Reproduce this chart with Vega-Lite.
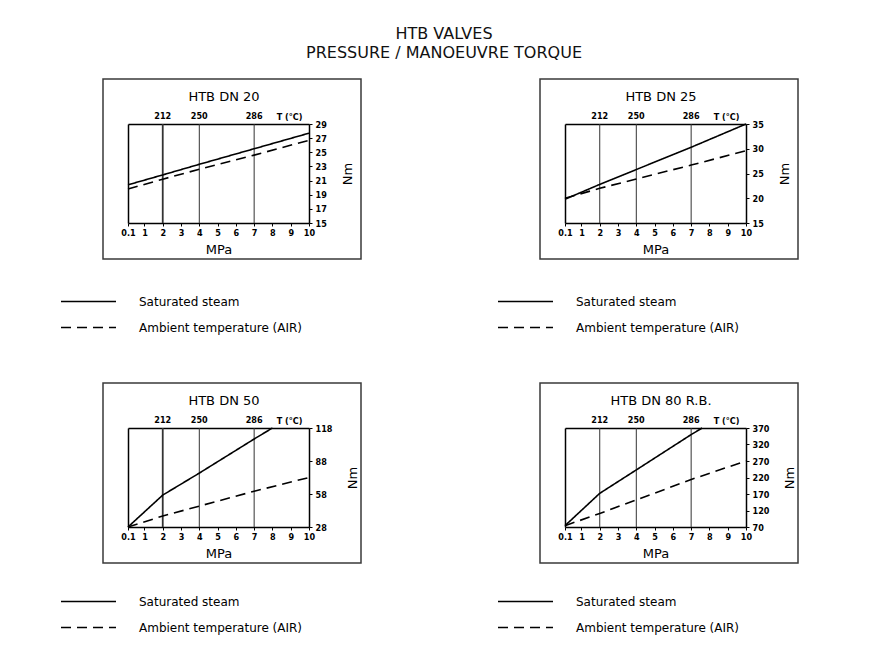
{
  "$schema": "https://vega.github.io/schema/vega-lite/v6.json",
  "background": "white",
  "padding": {"left": 59, "top": 26, "right": 5, "bottom": 5},
  "title": {"text": ["HTB VALVES", "PRESSURE / MANOEUVRE TORQUE"], "font": "DejaVu Sans", "fontSize": 16, "fontWeight": "normal", "color": "#111", "lineHeight": 19, "anchor": "middle", "frame": "bounds", "dx": 15, "offset": 17},
  "datasets": {
    "torque": [
      {"valve": "DN 20", "series": "Saturated steam", "p": 0.1, "torque": 20.4},
      {"valve": "DN 20", "series": "Saturated steam", "p": 2, "torque": 21.8},
      {"valve": "DN 20", "series": "Saturated steam", "p": 4, "torque": 23.3},
      {"valve": "DN 20", "series": "Saturated steam", "p": 7, "torque": 25.5},
      {"valve": "DN 20", "series": "Saturated steam", "p": 10, "torque": 27.7},
      {"valve": "DN 20", "series": "Ambient temperature (AIR)", "p": 0.1, "torque": 19.8},
      {"valve": "DN 20", "series": "Ambient temperature (AIR)", "p": 2, "torque": 21.2},
      {"valve": "DN 20", "series": "Ambient temperature (AIR)", "p": 4, "torque": 22.6},
      {"valve": "DN 20", "series": "Ambient temperature (AIR)", "p": 7, "torque": 24.6},
      {"valve": "DN 20", "series": "Ambient temperature (AIR)", "p": 10, "torque": 26.7},
      {"valve": "DN 25", "series": "Saturated steam", "p": 0.1, "torque": 19.8},
      {"valve": "DN 25", "series": "Saturated steam", "p": 2, "torque": 22.8},
      {"valve": "DN 25", "series": "Saturated steam", "p": 4, "torque": 25.8},
      {"valve": "DN 25", "series": "Saturated steam", "p": 7, "torque": 30.3},
      {"valve": "DN 25", "series": "Saturated steam", "p": 10, "torque": 35},
      {"valve": "DN 25", "series": "Ambient temperature (AIR)", "p": 0.1, "torque": 20},
      {"valve": "DN 25", "series": "Ambient temperature (AIR)", "p": 2, "torque": 22},
      {"valve": "DN 25", "series": "Ambient temperature (AIR)", "p": 4, "torque": 23.9},
      {"valve": "DN 25", "series": "Ambient temperature (AIR)", "p": 7, "torque": 26.7},
      {"valve": "DN 25", "series": "Ambient temperature (AIR)", "p": 10, "torque": 29.6},
      {"valve": "DN 50", "series": "Saturated steam", "p": 0.1, "torque": 28},
      {"valve": "DN 50", "series": "Saturated steam", "p": 2, "torque": 57},
      {"valve": "DN 50", "series": "Saturated steam", "p": 4, "torque": 77},
      {"valve": "DN 50", "series": "Saturated steam", "p": 7, "torque": 108},
      {"valve": "DN 50", "series": "Saturated steam", "p": 8, "torque": 118},
      {"valve": "DN 50", "series": "Ambient temperature (AIR)", "p": 0.1, "torque": 28},
      {"valve": "DN 50", "series": "Ambient temperature (AIR)", "p": 2, "torque": 38},
      {"valve": "DN 50", "series": "Ambient temperature (AIR)", "p": 4, "torque": 47},
      {"valve": "DN 50", "series": "Ambient temperature (AIR)", "p": 7, "torque": 60.5},
      {"valve": "DN 50", "series": "Ambient temperature (AIR)", "p": 10, "torque": 73},
      {"valve": "DN 80 R.B.", "series": "Saturated steam", "p": 0.1, "torque": 74},
      {"valve": "DN 80 R.B.", "series": "Saturated steam", "p": 2, "torque": 172},
      {"valve": "DN 80 R.B.", "series": "Saturated steam", "p": 4, "torque": 243},
      {"valve": "DN 80 R.B.", "series": "Saturated steam", "p": 7, "torque": 350},
      {"valve": "DN 80 R.B.", "series": "Saturated steam", "p": 7.6, "torque": 370},
      {"valve": "DN 80 R.B.", "series": "Ambient temperature (AIR)", "p": 0.1, "torque": 74},
      {"valve": "DN 80 R.B.", "series": "Ambient temperature (AIR)", "p": 2, "torque": 111},
      {"valve": "DN 80 R.B.", "series": "Ambient temperature (AIR)", "p": 4, "torque": 152},
      {"valve": "DN 80 R.B.", "series": "Ambient temperature (AIR)", "p": 7, "torque": 214},
      {"valve": "DN 80 R.B.", "series": "Ambient temperature (AIR)", "p": 10, "torque": 270}
    ],
    "sat": [
      {"p": 2, "T": 212},
      {"p": 4, "T": 250},
      {"p": 7, "T": 286}
    ]
  },
  "config": {
    "font": "DejaVu Sans",
    "view": {"stroke": "#3a3a3a", "strokeWidth": 1.5},
    "axis": {"domainColor": "black", "domainWidth": 1.5, "tickColor": "black", "labelColor": "black", "titleColor": "black", "grid": false, "labelFont": "DejaVu Sans Condensed", "labelFontWeight": "bold", "labelFontSize": 9, "labelOverlap": false, "labelFlush": false, "titleFont": "DejaVu Sans", "titleFontWeight": "normal", "titleFontSize": 13},
    "legend": {"orient": "none", "title": null, "symbolType": "M-1,0H9", "symbolSize": 121, "symbolStrokeWidth": 1.5, "symbolStrokeColor": "black", "symbolFillColor": "transparent", "labelOffset": 66, "labelFontSize": 12, "labelColor": "black", "labelFont": "DejaVu Sans", "rowPadding": 13, "labelLimit": 300},
    "title": {"font": "DejaVu Sans", "fontSize": 13, "fontWeight": "normal", "color": "black"}
  },
  "bounds": "flush",
  "columns": 2,
  "spacing": {"row": 124, "column": 179},
  "resolve": {"scale": {"strokeDash": "independent"}, "legend": {"strokeDash": "independent"}},
  "concat": [
    {
      "width": 258, "height": 180,
      "title": {"text": "HTB DN 20", "orient": "top", "anchor": "middle", "frame": "group", "baseline": "middle", "offset": -31, "dx": -8},
      "layer": [
        {
          "data": {"name": "sat"},
          "mark": {"type": "rule", "color": "#333"},
          "encoding": {
            "x": {"field": "p", "type": "quantitative", "scale": {"domain": [0.1, 10], "range": [25, 206], "nice": false}, "axis": {"orient": "top", "offset": -45, "labels": false, "ticks": false, "title": "T (°C)", "titleFont": "DejaVu Sans Condensed", "titleFontSize": 9, "titleFontWeight": "bold", "titleX": 199, "titleY": -3, "titleAlign": "right", "titleBaseline": "bottom"}},
            "y": {"datum": 15, "type": "quantitative", "scale": {"domain": [15, 29], "range": [144, 45], "nice": false}, "axis": {"orient": "left", "offset": -25, "labels": false, "ticks": false, "title": null}},
            "y2": {"datum": 29},
            "strokeWidth": {"condition": {"test": "datum.p === 2", "value": 1.8}, "value": 1}
          }
        },
        {
          "data": {"name": "sat"},
          "mark": {"type": "text", "font": "DejaVu Sans Condensed", "fontWeight": "bold", "fontSize": 9, "baseline": "bottom", "dy": -3, "color": "black"},
          "encoding": {
            "x": {"field": "p", "type": "quantitative", "axis": null},
            "y": {"datum": 29, "type": "quantitative", "axis": null},
            "text": {"field": "T", "type": "nominal"}
          }
        },
        {
          "data": {"name": "torque"},
          "transform": [{"filter": "datum.valve === 'DN 20'"}],
          "mark": {"type": "line", "color": "black", "strokeWidth": 1.6},
          "encoding": {
            "x": {"field": "p", "type": "quantitative", "axis": {"orient": "bottom", "offset": -36, "values": [0.1, 1, 2, 3, 4, 5, 6, 7, 8, 9, 10], "format": "~r", "tickSize": 3, "labelPadding": 2, "title": "MPa", "titlePadding": 6}},
            "y": {"field": "torque", "type": "quantitative", "axis": {"orient": "right", "offset": -52, "values": [15, 17, 19, 21, 23, 25, 27, 29], "tickSize": 3, "labelPadding": 3, "title": "Nm", "titleAngle": 270, "titlePadding": 28}},
            "strokeDash": {"field": "series", "type": "nominal", "scale": {"domain": ["Saturated steam", "Ambient temperature (AIR)"], "range": [[1, 0], [10, 6]]}, "legend": {"legendX": -43, "legendY": 216}}
          }
        }
      ],
      "resolve": {"axis": {"x": "independent", "y": "independent"}}
    },
    {
      "width": 258, "height": 180,
      "title": {"text": "HTB DN 25", "orient": "top", "anchor": "middle", "frame": "group", "baseline": "middle", "offset": -31, "dx": -8},
      "layer": [
        {
          "data": {"name": "sat"},
          "mark": {"type": "rule", "color": "#333", "strokeWidth": 1},
          "encoding": {
            "x": {"field": "p", "type": "quantitative", "scale": {"domain": [0.1, 10], "range": [25, 206], "nice": false}, "axis": {"orient": "top", "offset": -45, "labels": false, "ticks": false, "title": "T (°C)", "titleFont": "DejaVu Sans Condensed", "titleFontSize": 9, "titleFontWeight": "bold", "titleX": 199, "titleY": -3, "titleAlign": "right", "titleBaseline": "bottom"}},
            "y": {"datum": 15, "type": "quantitative", "scale": {"domain": [15, 35], "range": [144, 45], "nice": false}, "axis": {"orient": "left", "offset": -25, "labels": false, "ticks": false, "title": null}},
            "y2": {"datum": 35}
          }
        },
        {
          "data": {"name": "sat"},
          "mark": {"type": "text", "font": "DejaVu Sans Condensed", "fontWeight": "bold", "fontSize": 9, "baseline": "bottom", "dy": -3, "color": "black"},
          "encoding": {
            "x": {"field": "p", "type": "quantitative", "axis": null},
            "y": {"datum": 35, "type": "quantitative", "axis": null},
            "text": {"field": "T", "type": "nominal"}
          }
        },
        {
          "data": {"name": "torque"},
          "transform": [{"filter": "datum.valve === 'DN 25'"}],
          "mark": {"type": "line", "color": "black", "strokeWidth": 1.6},
          "encoding": {
            "x": {"field": "p", "type": "quantitative", "axis": {"orient": "bottom", "offset": -36, "values": [0.1, 1, 2, 3, 4, 5, 6, 7, 8, 9, 10], "format": "~r", "tickSize": 3, "labelPadding": 2, "title": "MPa", "titlePadding": 6}},
            "y": {"field": "torque", "type": "quantitative", "axis": {"orient": "right", "offset": -52, "values": [15, 20, 25, 30, 35], "tickSize": 3, "labelPadding": 3, "title": "Nm", "titleAngle": 270, "titlePadding": 28}},
            "strokeDash": {"field": "series", "type": "nominal", "scale": {"domain": ["Saturated steam", "Ambient temperature (AIR)"], "range": [[1, 0], [10, 6]]}, "legend": {"legendX": -43, "legendY": 216}}
          }
        }
      ],
      "resolve": {"axis": {"x": "independent", "y": "independent"}}
    },
    {
      "width": 258, "height": 180,
      "title": {"text": "HTB DN 50", "orient": "top", "anchor": "middle", "frame": "group", "baseline": "middle", "offset": -31, "dx": -8},
      "layer": [
        {
          "data": {"name": "sat"},
          "mark": {"type": "rule", "color": "#333"},
          "encoding": {
            "x": {"field": "p", "type": "quantitative", "scale": {"domain": [0.1, 10], "range": [25, 206], "nice": false}, "axis": {"orient": "top", "offset": -45, "labels": false, "ticks": false, "title": "T (°C)", "titleFont": "DejaVu Sans Condensed", "titleFontSize": 9, "titleFontWeight": "bold", "titleX": 199, "titleY": -3, "titleAlign": "right", "titleBaseline": "bottom"}},
            "y": {"datum": 28, "type": "quantitative", "scale": {"domain": [28, 118], "range": [144, 45], "nice": false}, "axis": {"orient": "left", "offset": -25, "labels": false, "ticks": false, "title": null}},
            "y2": {"datum": 118},
            "strokeWidth": {"condition": {"test": "datum.p === 2", "value": 1.8}, "value": 1}
          }
        },
        {
          "data": {"name": "sat"},
          "mark": {"type": "text", "font": "DejaVu Sans Condensed", "fontWeight": "bold", "fontSize": 9, "baseline": "bottom", "dy": -3, "color": "black"},
          "encoding": {
            "x": {"field": "p", "type": "quantitative", "axis": null},
            "y": {"datum": 118, "type": "quantitative", "axis": null},
            "text": {"field": "T", "type": "nominal"}
          }
        },
        {
          "data": {"name": "torque"},
          "transform": [{"filter": "datum.valve === 'DN 50'"}],
          "mark": {"type": "line", "color": "black", "strokeWidth": 1.6},
          "encoding": {
            "x": {"field": "p", "type": "quantitative", "axis": {"orient": "bottom", "offset": -36, "values": [0.1, 1, 2, 3, 4, 5, 6, 7, 8, 9, 10], "format": "~r", "tickSize": 3, "labelPadding": 2, "title": "MPa", "titlePadding": 6}},
            "y": {"field": "torque", "type": "quantitative", "axis": {"orient": "right", "offset": -52, "values": [28, 58, 88, 118], "tickSize": 3, "labelPadding": 3, "title": "Nm", "titleAngle": 270, "titlePadding": 28}},
            "strokeDash": {"field": "series", "type": "nominal", "scale": {"domain": ["Saturated steam", "Ambient temperature (AIR)"], "range": [[1, 0], [10, 6]]}, "legend": {"legendX": -43, "legendY": 212}}
          }
        }
      ],
      "resolve": {"axis": {"x": "independent", "y": "independent"}}
    },
    {
      "width": 258, "height": 180,
      "title": {"text": "HTB DN 80 R.B.", "orient": "top", "anchor": "middle", "frame": "group", "baseline": "middle", "offset": -31, "dx": -8},
      "layer": [
        {
          "data": {"name": "sat"},
          "mark": {"type": "rule", "color": "#333", "strokeWidth": 1},
          "encoding": {
            "x": {"field": "p", "type": "quantitative", "scale": {"domain": [0.1, 10], "range": [25, 206], "nice": false}, "axis": {"orient": "top", "offset": -45, "labels": false, "ticks": false, "title": "T (°C)", "titleFont": "DejaVu Sans Condensed", "titleFontSize": 9, "titleFontWeight": "bold", "titleX": 199, "titleY": -3, "titleAlign": "right", "titleBaseline": "bottom"}},
            "y": {"datum": 70, "type": "quantitative", "scale": {"domain": [70, 370], "range": [144, 45], "nice": false}, "axis": {"orient": "left", "offset": -25, "labels": false, "ticks": false, "title": null}},
            "y2": {"datum": 370}
          }
        },
        {
          "data": {"name": "sat"},
          "mark": {"type": "text", "font": "DejaVu Sans Condensed", "fontWeight": "bold", "fontSize": 9, "baseline": "bottom", "dy": -3, "color": "black"},
          "encoding": {
            "x": {"field": "p", "type": "quantitative", "axis": null},
            "y": {"datum": 370, "type": "quantitative", "axis": null},
            "text": {"field": "T", "type": "nominal"}
          }
        },
        {
          "data": {"name": "torque"},
          "transform": [{"filter": "datum.valve === 'DN 80 R.B.'"}],
          "mark": {"type": "line", "color": "black", "strokeWidth": 1.6},
          "encoding": {
            "x": {"field": "p", "type": "quantitative", "axis": {"orient": "bottom", "offset": -36, "values": [0.1, 1, 2, 3, 4, 5, 6, 7, 8, 9, 10], "format": "~r", "tickSize": 3, "labelPadding": 2, "title": "MPa", "titlePadding": 6}},
            "y": {"field": "torque", "type": "quantitative", "axis": {"orient": "right", "offset": -52, "values": [70, 120, 170, 220, 270, 320, 370], "tickSize": 3, "labelPadding": 3, "title": "Nm", "titleAngle": 270, "titlePadding": 28}},
            "strokeDash": {"field": "series", "type": "nominal", "scale": {"domain": ["Saturated steam", "Ambient temperature (AIR)"], "range": [[1, 0], [10, 6]]}, "legend": {"legendX": -43, "legendY": 212}}
          }
        }
      ],
      "resolve": {"axis": {"x": "independent", "y": "independent"}}
    }
  ]
}
